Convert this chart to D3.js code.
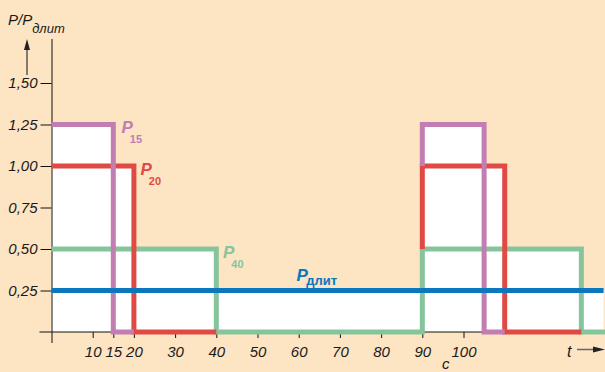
<!DOCTYPE html>
<html><head><meta charset="utf-8">
<script src="https://cdn.jsdelivr.net/npm/d3@7"></script>
<style>
html,body{margin:0;padding:0;background:#fde4c3;}
svg{display:block;font-family:"Liberation Sans",Arial,sans-serif;}
</style></head>
<body>
<svg id="c" width="605" height="372"></svg>
<script>
// ---- data (t in seconds, P/Pдлит) ----
const xTicks = [10, 15, 20, 30, 40, 50, 60, 70, 80, 90, 100];
const yTicks = [0.25, 0.5, 0.75, 1.0, 1.25, 1.5];
const p15Segments = [
  [[0,1.25],[15,1.25],[15,0],[20,0]],
  [[90,1.0],[90,1.25],[105,1.25],[105,0],[110,0]]
];
const p20Segments = [
  [[0,1.0],[20,1.0],[20,0],[40,0]],
  [[90,0.5],[90,1.0],[110,1.0],[110,0],[128.6,0]]
];
const p40Segments = [
  [[0,0.5],[40,0.5],[40,0],[90,0],[90,0.5],[128.6,0.5],[128.6,0],[136,0]]
];
const pDlitSegments = [
  [[0,0.25],[134,0.25]]
];
const seriesNames = ["P40","P20","P15","Pдлит"];
const seriesColors = {P15:"#c27db3", P20:"#e04a45", P40:"#86c59c", "Pдлит":"#0b77bf"};

const svg = d3.select("#c");
const x = d3.scaleLinear().domain([0,134]).range([51.5,603.6]);
const y = d3.scaleLinear().domain([0,1.5]).range([332,83]);

const segs = {P15:p15Segments, P20:p20Segments, P40:p40Segments, "Pдлит":pDlitSegments};

// white fill under envelope
const area = d3.area().x(d=>x(d[0])).y0(y(0)).y1(d=>y(d[1]));
seriesNames.forEach(n=>{
  segs[n].forEach(s=>{
    svg.append("path").attr("d",area(s)).attr("fill","#fff");
  });
});

// axes
const fmt = d => d3.format(".2f")(d).replace(".",",");
const gy = svg.append("g").attr("transform",`translate(${x(0)},0)`)
  .call(d3.axisLeft(y).tickValues(yTicks).tickSize(11).tickPadding(3).tickFormat(fmt));
gy.select(".domain").remove();
gy.selectAll("text").attr("font-size",15).attr("font-style","italic").attr("fill","#1a1a1a")
  .attr("font-family","Liberation Sans, Arial, sans-serif");
gy.selectAll("line").attr("stroke","#111");
gy.append("line").attr("x1",0.5).attr("x2",0.5).attr("y1",39).attr("y2",343).attr("stroke","#111");
gy.append("line").attr("x1",-12).attr("x2",0).attr("y1",y(0)).attr("y2",y(0)).attr("stroke","#111");

const gx = svg.append("g").attr("transform",`translate(0,${y(0)})`)
  .call(d3.axisBottom(x).tickValues(xTicks).tickSize(6).tickPadding(8).tickFormat(d3.format("d")));
gx.select(".domain").remove();
gx.selectAll("text").attr("font-size",15).attr("font-style","italic").attr("fill","#1a1a1a")
  .attr("font-family","Liberation Sans, Arial, sans-serif");
gx.selectAll("line").attr("stroke","#111");
gx.append("line").attr("x1",x(0)).attr("x2",605).attr("y1",0).attr("y2",0).attr("stroke","#111");

// series lines
const line = d3.line().x(d=>x(d[0])).y(d=>y(d[1]));
seriesNames.forEach(n=>{
  segs[n].forEach(s=>{
    svg.append("path").attr("d",line(s)).attr("fill","none")
      .attr("stroke",seriesColors[n]).attr("stroke-width",5)
      .attr("stroke-linejoin","miter").attr("stroke-linecap","butt");
  });
});

// series labels
function label(px, py, sub, color, subDx, subDy, subSize){
  const t = svg.append("text").attr("x",px).attr("y",py).attr("fill",color)
    .attr("font-weight","bold");
  t.append("tspan").text("P").attr("font-style","italic").attr("font-size",17);
  t.append("tspan").text(sub).attr("font-size",subSize).attr("dx",subDx).attr("dy",subDy);
}
label(121.5,133,"15",seriesColors.P15,-3,10,11);
label(140.5,175,"20",seriesColors.P20,-3,10,11);
label(223,257.5,"40",seriesColors.P40,-3,10,11);
label(296.5,281,"длит",seriesColors["Pдлит"],-1.5,4,13);

// y title
const yt = svg.append("text").attr("x",8).attr("y",25).attr("fill","#1a1a1a").attr("font-style","italic");
yt.append("tspan").text("P/P").attr("font-size",15);
yt.append("tspan").text("длит").attr("font-size",13).attr("dy",8);

// arrows
svg.append("line").attr("x1",27).attr("x2",27).attr("y1",75).attr("y2",47).attr("stroke","#333").attr("stroke-width",1.2);
svg.append("path").attr("d","M27,39 L24,50 L30,50 Z").attr("fill","#222");
svg.append("text").attr("x",567).attr("y",357).attr("font-size",16).attr("font-style","italic").attr("fill","#1a1a1a").text("t");
svg.append("line").attr("x1",577).attr("x2",596).attr("y1",349.5).attr("y2",349.5).attr("stroke","#666").attr("stroke-width",1.5);
svg.append("path").attr("d","M605,349.5 L593,346.5 L593,352.5 Z").attr("fill","#222");
svg.append("text").attr("x",442).attr("y",369).attr("font-size",15).attr("font-style","italic").attr("fill","#1a1a1a").text("с");
</script>
</body></html>
